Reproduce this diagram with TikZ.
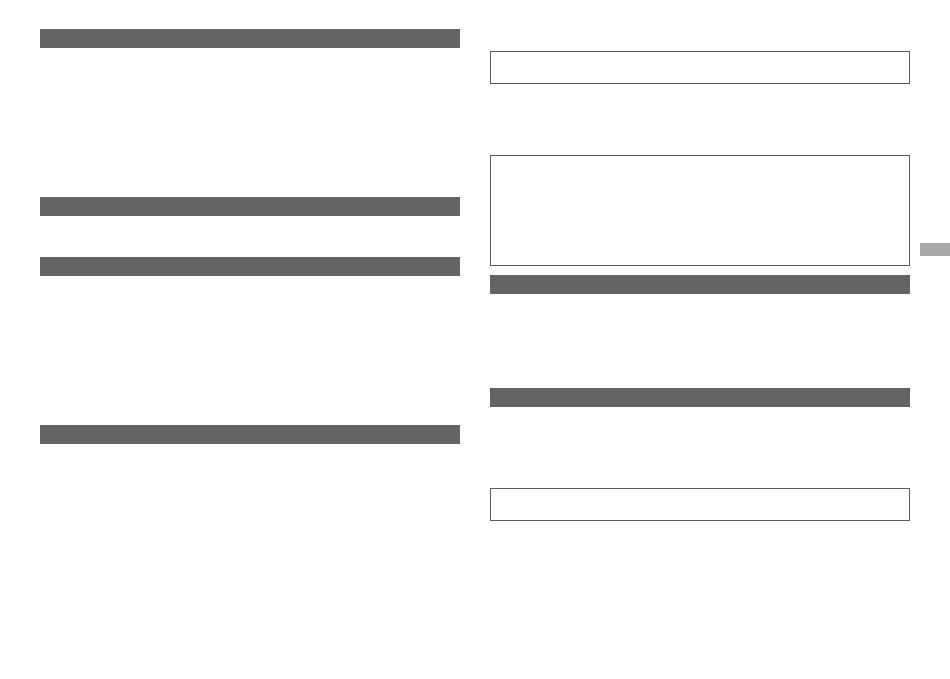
\documentclass[tikz,border=0pt]{standalone}
\begin{document}
\begin{tikzpicture}[x=1pt,y=-1pt,
  bar/.style={fill={rgb,255:red,99;green,100;blue,102}, draw=none, inner sep=0pt, outer sep=0pt, anchor=north west, minimum width=420pt},
  frame/.style={draw={rgb,255:red,90;green,90;blue,92}, line width=1.1pt, fill=white, inner sep=0pt, outer sep=0pt, anchor=north west, minimum width=419pt},
  tab/.style={fill={rgb,255:red,168;green,168;blue,171}, draw=none, inner sep=0pt, outer sep=0pt, anchor=north west, minimum width=30pt, minimum height=13pt}]
\useasboundingbox[fill=white] (0,0) rectangle (950,679);
% left column bars
\node[bar, minimum height=19pt] (b1) at (40,29) {};
\node[bar, minimum height=19pt] (b2) at (40,197) {};
\node[bar, minimum height=19pt] (b3) at (40,257) {};
\node[bar, minimum height=19pt] (b4) at (40,424.5) {};
% right column
\node[frame, minimum height=32pt] (f1) at (490.5,51.5) {};
\node[frame, minimum height=110pt] (f2) at (490.5,155.5) {};
\node[bar, minimum height=19pt] (b5) at (490,274.5) {};
\node[bar, minimum height=19pt] (b6) at (490,387.5) {};
\node[frame, minimum height=32pt] (f3) at (490.5,488.5) {};
% side tab
\node[tab] (t1) at (920,243) {};
\end{tikzpicture}
\end{document}
